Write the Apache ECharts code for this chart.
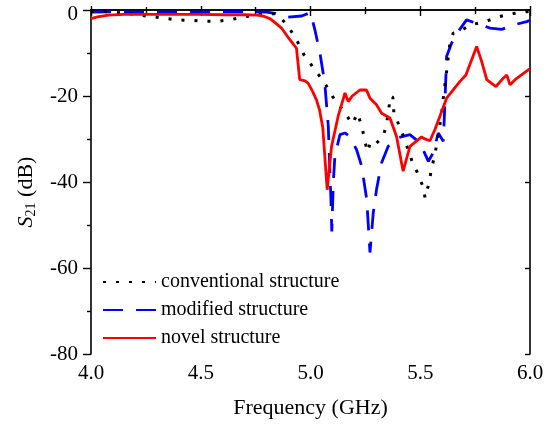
<!DOCTYPE html>
<html>
<head>
<meta charset="utf-8">
<script src="https://cdn.jsdelivr.net/npm/echarts@6/dist/echarts.min.js"></script>
<style>html,body{margin:0;padding:0;background:#fff}#c{width:550px;height:424px}</style>
</head>
<body>
<div id="c"></div>
<script>
const xTicks = ['4.0', '4.5', '5.0', '5.5', '6.0'];
const yTicks = ['0', '-20', '-40', '-60', '-80'];
const seriesNames = ['conventional structure', 'modified structure', 'novel structure'];

const freqConv = [4.00,4.05,4.10,4.20,4.25,4.32,4.39,4.45,4.52,4.58,4.64,4.71,4.77,4.81,4.84,4.87,4.90,4.94,4.97,5.02,5.065,5.10,5.15,5.19,5.215,5.235,5.25,5.26,5.275,5.30,5.33,5.345,5.355,5.365,5.375,5.38,5.415,5.438,5.46,5.49,5.514,5.522,5.54,5.552,5.567,5.597,5.605,5.62,5.635,5.65,5.68,5.726,5.795,5.863,5.924,5.985,6.00];
const s21Conv  = [-0.4,-0.3,-0.5,-1.0,-1.4,-1.8,-2.3,-2.4,-2.6,-2.6,-2.2,-1.5,-1.0,-0.9,-0.9,-2.2,-3.9,-7.3,-10.4,-13.9,-17.0,-20.1,-23.4,-26.5,-24.0,-27.4,-31.0,-33.0,-30.5,-31.0,-29.5,-27.0,-23.5,-20.0,-20.3,-24.0,-28.2,-31.5,-34.8,-38.2,-41.3,-43.7,-40.2,-36.7,-33.6,-24.3,-20.5,-14.3,-7.7,-5.4,-5.0,-3.5,-2.7,-1.5,-0.8,-0.4,-0.3];

const freqMod = [4.00,4.10,4.20,4.30,4.40,4.50,4.60,4.70,4.80,4.84,4.89,4.96,5.00,5.02,5.043,5.065,5.081,5.093,5.097,5.104,5.111,5.134,5.157,5.179,5.21,5.233,5.256,5.271,5.286,5.301,5.324,5.354,5.392,5.453,5.499,5.537,5.559,5.582,5.605,5.613,5.62,5.643,5.673,5.711,5.757,5.818,5.871,5.924,5.985,6.00];
const s21Mod  = [-0.5,-0.4,-0.5,-0.5,-0.5,-0.5,-0.4,-0.4,-0.5,-0.8,-1.7,-1.4,-0.6,-4.6,-10.0,-17.0,-27.0,-44.0,-51.5,-40.0,-34.0,-29.0,-28.6,-29.4,-32.5,-36.3,-44.0,-56.4,-47.1,-41.7,-35.5,-31.7,-29.8,-29.0,-30.9,-35.2,-33.2,-28.6,-30.5,-20.9,-10.8,-7.7,-5.0,-2.3,-3.1,-4.2,-4.5,-3.5,-2.7,-2.4];

const freqNovel = [4.00,4.03,4.08,4.15,4.30,4.50,4.60,4.70,4.76,4.79,4.815,4.84,4.868,4.90,4.936,4.951,4.975,4.989,5.01,5.027,5.041,5.056,5.076,5.096,5.126,5.157,5.172,5.19,5.225,5.255,5.271,5.30,5.324,5.362,5.392,5.422,5.453,5.483,5.506,5.518,5.544,5.567,5.62,5.681,5.708,5.757,5.78,5.803,5.845,5.879,5.894,5.909,5.932,5.992,6.00];
const s21Novel  = [-2.0,-1.6,-1.2,-1.0,-1.0,-1.0,-1.1,-1.1,-1.2,-1.5,-2.0,-3.0,-4.2,-6.5,-8.9,-16.2,-16.5,-17.0,-19.0,-20.9,-23.2,-27.4,-41.8,-31.7,-24.7,-19.3,-21.3,-20.0,-18.6,-18.6,-20.5,-22.0,-24.0,-25.1,-29.4,-37.5,-31.7,-30.5,-29.5,-29.9,-30.4,-27.8,-20.5,-16.6,-15.1,-8.5,-12.0,-16.2,-17.8,-15.8,-15.1,-17.4,-16.2,-13.9,-13.7];

const zip = (xs, ys) => xs.map((x, i) => [x, ys[i]]);
const FONT = 'Liberation Serif';

const chart = echarts.init(document.getElementById('c'), null, {renderer: 'canvas'});
const axisLine = {show: true, lineStyle: {color: '#000', width: 1.6}};
chart.setOption({
  animation: false,
  backgroundColor: '#fff',
  grid: {left: 91, right: 20, top: 10, bottom: 69, containLabel: false},
  legend: {
    orient: 'vertical', left: 97, top: 267,
    itemWidth: 53, itemHeight: 14, itemGap: 8,
    itemStyle: {opacity: 0, borderWidth: 0},
    textStyle: {fontFamily: FONT, fontSize: 20, color: '#000', lineHeight: 20},
    data: seriesNames
  },
  xAxis: [{
    type: 'value', min: 4, max: 6, interval: 0.5,
    name: 'Frequency (GHz)', nameLocation: 'middle', nameGap: 43,
    nameTextStyle: {fontFamily: FONT, fontSize: 22, color: '#000'},
    axisLine: axisLine,
    axisTick: {show: true, inside: false, length: 6, lineStyle: {color: '#000', width: 1.4}},
    minorTick: {show: true, splitNumber: 2, length: 4, lineStyle: {color: '#000', width: 1.4}},
    axisLabel: {fontFamily: FONT, fontSize: 21, color: '#000', margin: 9,
      formatter: v => xTicks[Math.round((v - 4) / 0.5)]},
    splitLine: {show: false}
  }, {
    type: 'value', position: 'top', min: 4, max: 6, interval: 0.5,
    axisLine: axisLine,
    axisTick: {show: true, inside: false, length: 4, lineStyle: {color: '#000', width: 1.4}},
    minorTick: {show: true, splitNumber: 2, length: 3, lineStyle: {color: '#000', width: 1.4}},
    axisLabel: {show: false}, splitLine: {show: false}
  }],
  yAxis: [{
    type: 'value', min: -80, max: 0, interval: 20,
    name: '{i|S}{sub|21} (dB)', nameLocation: 'middle', nameGap: 53, nameRotate: 90,
    nameTextStyle: {fontFamily: FONT, fontSize: 22, color: '#000', padding: [0, 20, 0, 0],
      rich: {
        i: {fontFamily: FONT, fontSize: 22, fontStyle: 'italic', color: '#000'},
        sub: {fontFamily: FONT, fontSize: 14, color: '#000', verticalAlign: 'bottom', padding: [9, 0, 0, 0]}
      }},
    axisLine: axisLine,
    axisTick: {show: true, inside: false, length: 8, lineStyle: {color: '#000', width: 1.4}},
    minorTick: {show: true, splitNumber: 2, length: 4, lineStyle: {color: '#000', width: 1.4}},
    axisLabel: {fontFamily: FONT, fontSize: 21, color: '#000', margin: 13,
      formatter: v => {
        const t = yTicks[Math.round(-v / 20)];
        return v === 0 ? '{top|' + t + '}' : t;
      },
      rich: {top: {fontFamily: FONT, fontSize: 21, color: '#000', padding: [9, 0, 0, 0]}}},
    splitLine: {show: false}
  }, {
    type: 'value', position: 'right', min: -80, max: 0, interval: 20,
    axisLine: axisLine,
    axisTick: {show: true, inside: true, length: 5, lineStyle: {color: '#000', width: 1.4}},
    minorTick: {show: false},
    axisLabel: {show: false}, splitLine: {show: false}
  }],
  series: [{
    name: seriesNames[0], type: 'line', symbol: 'none', z: 3,
    data: zip(freqConv, s21Conv),
    lineStyle: {color: '#000', width: 3, type: [3, 10], cap: 'butt'},
    itemStyle: {color: '#000'}
  }, {
    name: seriesNames[1], type: 'line', symbol: 'none', z: 2,
    data: zip(freqMod, s21Mod),
    lineStyle: {color: '#0000ff', width: 2.8, type: [20, 13]},
    itemStyle: {color: '#0000ff'}
  }, {
    name: seriesNames[2], type: 'line', symbol: 'none', z: 4,
    data: zip(freqNovel, s21Novel),
    lineStyle: {color: '#ff0000', width: 2.8},
    itemStyle: {color: '#ff0000'}
  }]
});
</script>
</body>
</html>
